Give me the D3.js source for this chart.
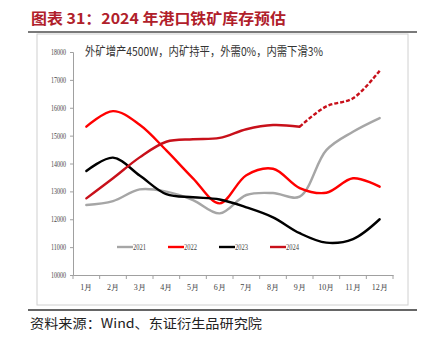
<!DOCTYPE html>
<html>
<head>
<meta charset="utf-8">
<script src="https://cdn.jsdelivr.net/npm/d3@7"></script>
<style>
  html, body { margin: 0; padding: 0; background: #fff; }
  svg { display: block; }
</style>
</head>
<body>
<svg id="chart" width="425" height="345"></svg>
<script>
// Monthly port iron-ore inventory (10k tonnes), 2021-2024; 2024 from Oct onward is a forecast
const months = ["1月","2月","3月","4月","5月","6月","7月","8月","9月","10月","11月","12月"];
const inv2021 = [12510, 12650, 13070, 12990, 12690, 12210, 12870, 12940, 12810, 14480, 15140, 15630];
const inv2022 = [15320, 15880, 15390, 14470, 13470, 12570, 13580, 13810, 13120, 12950, 13470, 13170];
const inv2023 = [13730, 14210, 13570, 12900, 12790, 12710, 12430, 12070, 11500, 11160, 11290, 12000];
const inv2024 = [12750, 13470, 14220, 14780, 14870, 14920, 15230, 15380, 15320, 16050, 16340, 17330];
const forecastFrom = 8; // index of 9月: last actual point, dashed afterwards
const yTicks = [10000, 11000, 12000, 13000, 14000, 15000, 16000, 17000, 18000];
const seriesNames = ["2021", "2022", "2023", "2024"];

const colors = { "2021": "#a6a6a6", "2022": "#ff0000", "2023": "#000000", "2024": "#c8101a" };
const serif = "'Liberation Serif','DejaVu Serif',serif";
const cjk = "'Noto Sans CJK SC','Liberation Serif',serif";

const svg = d3.select("#chart");

// Title and rules
svg.append("text")
  .attr("x", 31).attr("y", 24)
  .attr("fill", "#b0202a")
  .attr("font-family", cjk)
  .attr("font-weight", "bold")
  .attr("font-size", 15)
  .attr("textLength", 255)
  .attr("lengthAdjust", "spacingAndGlyphs")
  .text("图表 31：2024 年港口铁矿库存预估");
svg.append("line").attr("x1", 28).attr("x2", 417).attr("y1", 32).attr("y2", 32)
  .attr("stroke", "#7a7a7a").attr("stroke-width", 2);

// Chart frame
svg.append("rect").attr("x", 37).attr("y", 34).attr("width", 371).attr("height", 271)
  .attr("fill", "none").attr("stroke", "#d0d0d0").attr("stroke-width", 1);

svg.append("line").attr("x1", 28).attr("x2", 417).attr("y1", 310).attr("y2", 310)
  .attr("stroke", "#333").attr("stroke-width", 1.5);
svg.append("text")
  .attr("x", 30).attr("y", 328)
  .attr("fill", "#222")
  .attr("font-family", cjk)
  .attr("font-size", 13)
  .attr("textLength", 232)
  .attr("lengthAdjust", "spacingAndGlyphs")
  .text("资料来源：Wind、东证衍生品研究院");

// Scales
const x = d3.scaleBand().domain(months).range([73, 393]).padding(0);
const cx = m => x(m) + x.bandwidth() / 2;
const y = d3.scaleLinear().domain([10000, 18000]).range([275, 52]);

// Y axis
const yAxis = svg.append("g").attr("transform", "translate(73,0)")
  .call(d3.axisLeft(y).tickValues(yTicks).tickSize(3).tickPadding(4).tickFormat(d3.format("d")));
yAxis.select(".domain").attr("stroke", "#a0a0a0");
yAxis.selectAll(".tick line").attr("stroke", "#a0a0a0");
yAxis.selectAll(".tick text")
  .attr("fill", "#444").attr("font-family", serif).attr("font-size", 8)
  .attr("textLength", 15).attr("lengthAdjust", "spacingAndGlyphs");

// X axis: labels centered in bands, ticks on band boundaries
const xAxis = svg.append("g").attr("transform", "translate(0,275)")
  .call(d3.axisBottom(x).tickSize(0).tickPadding(9));
xAxis.select(".domain").attr("stroke", "#a0a0a0");
xAxis.selectAll(".tick text")
  .attr("fill", "#444").attr("font-family", serif).attr("font-size", 8);
xAxis.selectAll(".bound")
  .data(months.map(m => x(m)).concat([x.range()[1]]))
  .join("line")
  .attr("class", "bound")
  .attr("x1", d => d).attr("x2", d => d)
  .attr("y1", 0).attr("y2", 4)
  .attr("stroke", "#a0a0a0");

// Annotation
svg.append("text")
  .attr("x", 85).attr("y", 56)
  .attr("fill", "#333")
  .attr("font-family", cjk)
  .attr("font-size", 12)
  .attr("textLength", 238)
  .attr("lengthAdjust", "spacingAndGlyphs")
  .text("外矿增产4500W，内矿持平，外需0%，内需下滑3%");

// Lines
const line = d3.line()
  .x(d => cx(d.m))
  .y(d => y(d.v))
  .curve(d3.curveCatmullRom.alpha(0.5));
const pts = arr => arr.map((v, i) => ({ m: months[i], v }));

const plot = svg.append("g").attr("fill", "none").attr("stroke-linecap", "round");
plot.append("path").attr("d", line(pts(inv2021))).attr("stroke", colors["2021"]).attr("stroke-width", 2.4);
plot.append("path").attr("d", line(pts(inv2022))).attr("stroke", colors["2022"]).attr("stroke-width", 2.4);
plot.append("path").attr("d", line(pts(inv2023))).attr("stroke", colors["2023"]).attr("stroke-width", 2.4);
const p2024 = pts(inv2024);
plot.append("path").attr("d", line(p2024.slice(0, forecastFrom + 1)))
  .attr("stroke", colors["2024"]).attr("stroke-width", 2.4);
plot.append("path").attr("d", line(p2024.slice(forecastFrom)))
  .attr("stroke", colors["2024"]).attr("stroke-width", 2.4)
  .attr("stroke-linecap", "butt")
  .attr("stroke-dasharray", "4,2");

// Legend
const legendX = [117, 168, 219, 270];
const legend = svg.append("g").selectAll("g")
  .data(seriesNames)
  .join("g")
  .attr("transform", (d, i) => `translate(${legendX[i]},247)`);
legend.append("line").attr("x1", 0).attr("x2", 16).attr("y1", 0).attr("y2", 0)
  .attr("stroke", d => colors[d]).attr("stroke-width", 2.4);
legend.append("text").attr("x", 16).attr("y", 3)
  .attr("fill", "#444").attr("font-family", serif).attr("font-size", 8)
  .attr("textLength", 13).attr("lengthAdjust", "spacingAndGlyphs")
  .text(d => d);
</script>
</body>
</html>
